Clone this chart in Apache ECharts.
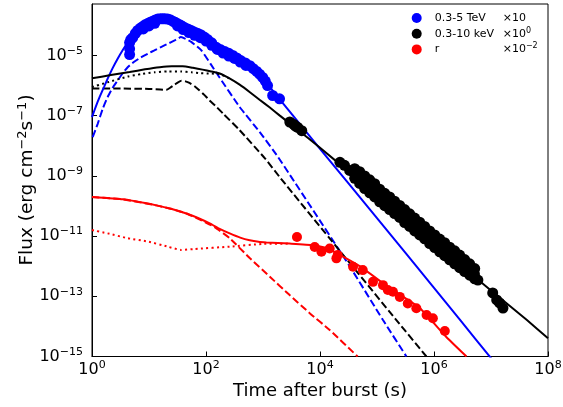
<!DOCTYPE html>
<html><head><meta charset="utf-8">
<script src="https://cdn.jsdelivr.net/npm/echarts@6/dist/echarts.min.js"></script>
<style>html,body{margin:0;padding:0;background:#fff}#c{width:563px;height:407px}</style>
</head><body><div id="c"></div>
<script>
// All values are in log10 units: logT = log10(time after burst / s), logF = log10(flux / erg cm^-2 s^-1)
const xTickExps = [0, 2, 4, 6, 8];
const yTickExps = [-15, -13, -11, -9, -7, -5];
const legendNames = ['0.3-5 TeV', '0.3-10 keV', 'r'];
const legendFactorExps = ['', '0', '\u22122'];

// 0.3-5 TeV data (x10)
const tevLogT = [0.66,0.66,0.66,0.68,0.714,0.76,0.80,0.85,0.89,0.93,0.977,1.02,1.065,1.11,1.153,1.2,1.24,1.28,1.328,1.37,1.416,1.46,1.503,1.55,1.59,1.63,1.679,1.73,1.784,1.85,1.907,1.97,2.03,2.1,2.18,2.25,2.33,2.40,2.47,2.54,2.61,2.69,2.77,2.83,2.89,2.94,2.995,3.04,3.08,3.17,3.29,
  0.90,1.00,1.10,1.50,1.60,1.70,1.80,1.90,2.00,2.10,2.20,2.30,2.40,2.50,2.60,2.70];
const tevLogF = [-4.97,-4.78,-4.57,-4.47,-4.41,-4.27,-4.17,-4.09,-4.04,-3.98,-3.94,-3.90,-3.86,-3.82,-3.79,-3.78,-3.78,-3.78,-3.79,-3.81,-3.86,-3.90,-3.95,-3.99,-4.04,-4.08,-4.12,-4.16,-4.21,-4.26,-4.31,-4.39,-4.47,-4.58,-4.73,-4.80,-4.87,-4.93,-5.00,-5.08,-5.17,-5.25,-5.34,-5.44,-5.53,-5.62,-5.73,-5.85,-6.00,-6.33,-6.44,
  -4.12,-4.02,-3.93,-4.02,-4.14,-4.24,-4.33,-4.41,-4.52,-4.66,-4.80,-4.92,-5.02,-5.10,-5.22,-5.33];

// 0.3-10 keV data
const xrayLogT = [3.47,3.54,3.57,3.61,3.68,
  4.35,4.43,4.52,4.61,4.70,4.78,4.87,4.96,5.05,5.14,5.22,5.31,5.40,5.49,5.57,5.66,5.75,5.84,5.93,6.01,6.10,6.19,6.28,6.36,6.45,6.54,6.63,6.71,6.77,7.03,7.10,7.15,7.21,
  4.609,4.696,4.784,4.872,4.959,5.047,5.135,5.222,5.309,5.398,5.485,5.573,5.661,5.749,5.836,5.924,6.012,6.100,6.187,6.275,6.363,6.450,6.538,6.626,6.714,
  4.609,4.696,4.784,4.872,4.959,5.047,5.135,5.222,5.309,5.398,5.485,5.573,5.661,5.749,5.836,5.924,6.012,6.100,6.187,6.275,6.363,6.450,6.538,6.626,6.714];
const xrayLogF = [-7.21,-7.29,-7.35,-7.39,-7.50,
  -8.55,-8.65,-8.82,-8.92,-9.05,-9.21,-9.35,-9.48,-9.65,-9.78,-9.91,-10.04,-10.17,-10.34,-10.47,-10.61,-10.74,-10.87,-11.04,-11.17,-11.30,-11.43,-11.57,-11.70,-11.83,-11.97,-12.10,-12.26,-12.46,-12.89,-13.12,-13.22,-13.39,
  -8.76,-8.86,-9.00,-9.13,-9.26,-9.44,-9.58,-9.70,-9.84,-9.98,-10.12,-10.26,-10.40,-10.54,-10.68,-10.83,-10.96,-11.10,-11.22,-11.37,-11.49,-11.63,-11.78,-11.92,-12.08,
  -9.08,-9.25,-9.42,-9.56,-9.70,-9.86,-9.99,-10.12,-10.25,-10.38,-10.55,-10.68,-10.83,-10.96,-11.09,-11.25,-11.38,-11.52,-11.65,-11.79,-11.92,-12.05,-12.18,-12.30,-12.42];

// r-band data (x10^-2)
const optLogT = [3.596,3.907,4.025,4.17,4.288,4.31,4.58,4.75,4.93,5.105,5.19,5.28,5.40,5.54,5.69,5.87,5.98,6.19];
const optLogF = [-11.03,-11.36,-11.52,-11.41,-11.74,-11.63,-12.02,-12.13,-12.52,-12.63,-12.79,-12.85,-13.02,-13.24,-13.40,-13.62,-13.73,-14.15];

// Models
const tevModelLogT = [0.0,0.07,0.14,0.21,0.275,0.36,0.45,0.54,0.626,0.72,0.8,0.9,1.0,1.08,1.15,1.25,1.33,1.4,1.48,1.56,1.65,1.75,1.85,1.95,2.2,2.5,2.8,3.0,3.15,3.29,4.0,5.0,6.0,6.45,7.02];
const tevModelLogF = [-7.05,-6.68,-6.35,-6.05,-5.77,-5.43,-5.11,-4.82,-4.56,-4.34,-4.18,-4.03,-3.92,-3.85,-3.80,-3.77,-3.77,-3.79,-3.83,-3.89,-3.97,-4.07,-4.19,-4.31,-4.66,-5.07,-5.48,-5.80,-6.12,-6.45,-8.10,-10.40,-12.72,-13.77,-15.1];
const tevDashLogT = [0.012,0.10,0.188,0.275,0.36,0.45,0.54,0.626,0.74,0.86,0.98,1.095,1.21,1.33,1.45,1.56,1.74,1.919,2.08,2.24,2.59,2.94,3.263,4.52,5.105,5.516];
const tevDashLogF = [-7.71,-7.27,-6.77,-6.38,-6.08,-5.83,-5.59,-5.39,-5.21,-5.06,-4.94,-4.83,-4.72,-4.61,-4.50,-4.39,-4.55,-4.83,-5.28,-5.74,-6.71,-7.54,-8.37,-12.0,-13.79,-15.0];

const xModelLogT = [0.0,0.33,0.66,0.93,1.19,1.4,1.59,1.77,1.94,2.09,2.24,2.42,2.59,2.77,2.94,3.12,3.29,3.59,3.99,4.7,5.4,6.2,7.0,7.63,8.0];
const xModelLogF = [-5.76,-5.65,-5.55,-5.46,-5.39,-5.36,-5.36,-5.41,-5.47,-5.53,-5.60,-5.77,-5.97,-6.22,-6.47,-6.73,-6.99,-7.44,-8.05,-9.17,-10.28,-11.54,-12.81,-13.79,-14.39];
const xDotLogT = [0.0,0.275,0.626,0.86,1.095,1.33,1.556,1.75,1.907,2.08,2.24,2.42];
const xDotLogF = [-6.05,-5.89,-5.70,-5.62,-5.56,-5.53,-5.53,-5.56,-5.59,-5.60,-5.62,-5.77];
const xDashLogT = [0.0,0.5,1.0,1.2,1.305,1.38,1.45,1.51,1.57,1.64,1.71,1.80,1.887,1.97,2.06,2.18,2.30,2.59,3.03,3.293,4.3,5.34,5.867];
const xDashLogF = [-6.10,-6.10,-6.11,-6.13,-6.14,-6.06,-5.97,-5.89,-5.84,-5.86,-5.91,-6.02,-6.16,-6.31,-6.49,-6.70,-6.93,-7.48,-8.41,-9.04,-11.38,-13.79,-15.0];

const rModelLogT = [0.0,0.544,1.13,1.4,1.656,1.86,2.065,2.24,2.416,2.6,2.767,2.92,3.06,3.468,3.877,4.08,4.258,4.696,5.223,5.75,6.22,6.57];
const rModelLogF = [-9.70,-9.78,-9.98,-10.10,-10.25,-10.40,-10.58,-10.76,-10.91,-11.05,-11.14,-11.19,-11.21,-11.25,-11.30,-11.38,-11.53,-12.0,-12.73,-13.39,-14.36,-15.0];
const rDashLogT = [0.0,0.544,1.13,1.4,1.656,1.893,2.15,2.416,2.767,3.12,3.468,3.82,4.17,4.66];
const rDashLogF = [-9.70,-9.78,-9.98,-10.10,-10.25,-10.45,-10.70,-11.07,-11.73,-12.35,-12.96,-13.56,-14.12,-15.0];
const rDotLogT = [0.0,0.275,0.626,0.977,1.328,1.56,1.80,2.416,2.995,3.468];
const rDotLogF = [-10.80,-10.91,-11.07,-11.18,-11.35,-11.46,-11.43,-11.35,-11.26,-11.25];

const FONT = 'DejaVu Sans';
const BLUE = '#0000ff', BLACK = '#000000', RED = '#ff0000';

function pairs(ts, fs) { return ts.map((t, i) => [t, fs[i]]); }
function expLabel(v) {
  const e = Math.round(v);
  const s = e < 0 ? '\u2212' + Math.abs(e) : String(e);
  return '{b|10}{s|' + s + '}';
}
const tickRich = {
  b: { fontSize: 16, lineHeight: 20, fontFamily: FONT, color: '#000' },
  s: { fontSize: 11, lineHeight: 9, verticalAlign: 'top', fontFamily: FONT, color: '#000' }
};

function lineSeries(name, ts, fs, color, type) {
  return {
    name: name, type: 'line', data: pairs(ts, fs), showSymbol: false, symbol: 'none',
    smooth: 0.15, clip: true, z: 2, silent: true,
    lineStyle: { color: color, width: 2, type: type, cap: 'butt' }
  };
}
function scatterSeries(name, ts, fs, color, size) {
  return {
    name: name, type: 'scatter', data: pairs(ts, fs), symbol: 'circle', symbolSize: size,
    itemStyle: { color: color, opacity: 1 }, z: 4, clip: true, silent: true
  };
}

const DASH = [7.4, 3.2], DOT = [2, 3.3];

const chart = echarts.init(document.getElementById('c'), null, { renderer: 'canvas' });
chart.setOption({
  animation: false,
  backgroundColor: '#ffffff',
  grid: { left: 92, right: 15, top: 4, bottom: 50.5, containLabel: false, outerBoundsMode: 'none',
          show: true, borderColor: '#000', borderWidth: 1, backgroundColor: 'transparent' },
  xAxis: {
    type: 'value', min: 0, max: 8,
    axisLine: { show: true, onZero: false, lineStyle: { color: '#000', width: 1 } },
    axisTick: { show: true, inside: true, length: 5, customValues: xTickExps, lineStyle: { color: '#000', width: 1 } },
    axisLabel: { show: true, customValues: xTickExps, margin: 3, formatter: expLabel, rich: tickRich, hideOverlap: false },
    splitLine: { show: false }, minorTick: { show: false }
  },
  yAxis: {
    type: 'value', min: -15, max: -3.29,
    axisLine: { show: true, onZero: false, lineStyle: { color: '#000', width: 1 } },
    axisTick: { show: true, inside: true, length: 5, customValues: yTickExps, lineStyle: { color: '#000', width: 1 } },
    axisLabel: { show: true, customValues: yTickExps, margin: 9, formatter: expLabel, rich: tickRich, hideOverlap: false },
    splitLine: { show: false }, minorTick: { show: false }
  },
  legend: {
    data: legendNames, orient: 'vertical', left: 411.7, top: 12.5, padding: 0,
    itemWidth: 10, itemHeight: 10, itemGap: 3.2, icon: 'circle', selectedMode: false,
    formatter: function (name) {
      const i = legendNames.indexOf(name);
      return '{a|' + name + '}{f|\u00d710}' + (legendFactorExps[i] ? '{s|' + legendFactorExps[i] + '}' : '');
    },
    textStyle: {
      rich: {
        a: { fontSize: 11, width: 68, padding: [0, 0, 0, 8], lineHeight: 14, fontFamily: FONT, color: '#000' },
        f: { fontSize: 11, lineHeight: 14, fontFamily: FONT, color: '#000' },
        s: { fontSize: 8, lineHeight: 7, verticalAlign: 'top', fontFamily: FONT, color: '#000' }
      }
    }
  },
  graphic: [
    { type: 'text', x: 320, y: 391, style: { text: 'Time after burst (s)', font: '18px "DejaVu Sans"', fill: '#000', align: 'center', verticalAlign: 'middle' } },
    { type: 'text', x: 27, y: 180, rotation: Math.PI / 2,
      style: { text: '{a|Flux (erg cm}{s|\u22122}{a|s}{s|\u22121}{a|)}', align: 'center', verticalAlign: 'middle',
        rich: {
          a: { fontSize: 18.5, lineHeight: 22, fontFamily: FONT, fill: '#000', color: '#000' },
          s: { fontSize: 13, lineHeight: 10, verticalAlign: 'top', fontFamily: FONT, fill: '#000', color: '#000' }
        } } }
  ],
  series: [
    lineSeries('tevDash', tevDashLogT, tevDashLogF, BLUE, DASH),
    lineSeries('xDash', xDashLogT, xDashLogF, BLACK, DASH),
    lineSeries('xDot', xDotLogT, xDotLogF, BLACK, DOT),
    lineSeries('rDash', rDashLogT, rDashLogF, RED, DASH),
    lineSeries('rDot', rDotLogT, rDotLogF, RED, DOT),
    lineSeries('tevModel', tevModelLogT, tevModelLogF, BLUE, 'solid'),
    lineSeries('xModel', xModelLogT, xModelLogF, BLACK, 'solid'),
    lineSeries('rModel', rModelLogT, rModelLogF, RED, 'solid'),
    scatterSeries(legendNames[0], tevLogT, tevLogF, BLUE, 11),
    scatterSeries(legendNames[1], xrayLogT, xrayLogF, BLACK, 11),
    scatterSeries(legendNames[2], optLogT, optLogF, RED, 10)
  ]
});
</script></body></html>
